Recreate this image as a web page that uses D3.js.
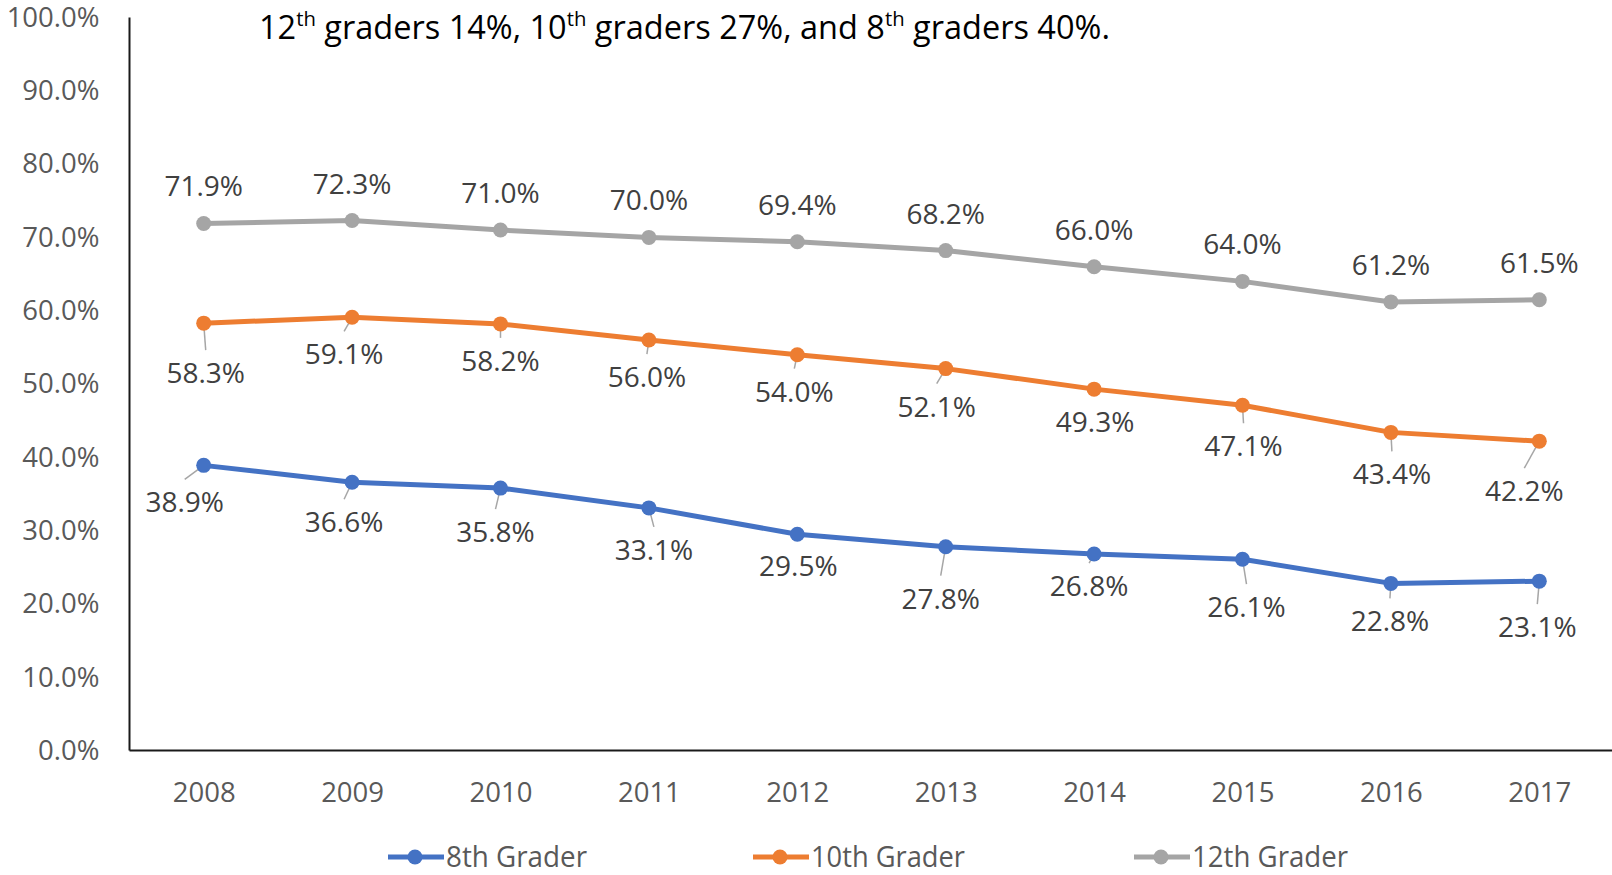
<!DOCTYPE html>
<html>
<head>
<meta charset="utf-8">
<script src="https://cdn.jsdelivr.net/npm/d3@7"></script>
<style>
  body { margin: 0; background: #fff; }
  svg { display: block; }
</style>
</head>
<body>
<div id="my_dataviz"></div>
<script>
// data
var years = ["2008", "2009", "2010", "2011", "2012", "2013", "2014", "2015", "2016", "2017"];
var grade8 = [38.9, 36.6, 35.8, 33.1, 29.5, 27.8, 26.8, 26.1, 22.8, 23.1];
var grade10 = [58.3, 59.1, 58.2, 56.0, 54.0, 52.1, 49.3, 47.1, 43.4, 42.2];
var grade12 = [71.9, 72.3, 71.0, 70.0, 69.4, 68.2, 66.0, 64.0, 61.2, 61.5];
var seriesNames = ["8th Grader", "10th Grader", "12th Grader"];
var yTicks = [0, 10, 20, 30, 40, 50, 60, 70, 80, 90, 100];

// label nudges (dx, baseline offset) - labels were dragged around in the original
var nudge8 = [[-19,47],[-8,50],[-5,54],[5,52],[1,42],[-5,62],[-5,42],[4,58],[-1,48],[-2,56]];
var nudge10 = [[2,60],[-8,47],[0,47],[-2,47],[-3,47],[-9,48],[1,43],[1,51],[1,52],[-15,60]];
var nudge12 = years.map(function() { return [0, -27]; });

var colors = ["#4472C4", "#ED7D31", "#A5A5A5"];

// set the dimensions of the plot area
var W = 1612, H = 875;
var plotLeft = 129.5, plotRight = 1613.5, plotTop = 17.5, plotBottom = 750.5;

var svg = d3.select("#my_dataviz")
  .append("svg")
    .attr("width", W)
    .attr("height", H)
    .style("font-family", "'Open Sans', sans-serif");

var x = d3.scalePoint()
    .domain(years)
    .range([plotLeft, plotRight])
    .padding(0.5);

var y = d3.scaleLinear()
    .domain([0, 100])
    .range([plotBottom, plotTop]);

// y axis labels
var yAxis = svg.append("g")
    .attr("transform", "translate(" + plotLeft + ",0)")
    .call(d3.axisLeft(y).tickValues(yTicks).tickSize(0).tickPadding(30)
      .tickFormat(function(d) { return d.toFixed(1) + "%"; }));
yAxis.select(".domain").remove();
yAxis.selectAll("text")
    .style("font-family", "'Open Sans', sans-serif")
    .style("font-size", "27.5px")
    .attr("fill", "#595959");

// x axis labels
var xAxis = svg.append("g")
    .attr("transform", "translate(0," + plotBottom + ")")
    .call(d3.axisBottom(x).tickSize(0).tickPadding(32));
xAxis.select(".domain").remove();
xAxis.selectAll("text")
    .style("font-family", "'Open Sans', sans-serif")
    .style("font-size", "27.5px")
    .attr("fill", "#595959");

// axis lines
svg.append("line")
    .attr("x1", plotLeft).attr("x2", plotLeft)
    .attr("y1", plotTop).attr("y2", plotBottom)
    .attr("stroke", "#1a1a1a").attr("stroke-width", 2);
svg.append("line")
    .attr("x1", plotLeft).attr("x2", W)
    .attr("y1", plotBottom).attr("y2", plotBottom)
    .attr("stroke", "#1a1a1a").attr("stroke-width", 2);

var series = [
  { name: seriesNames[0], values: grade8, nudge: nudge8, color: colors[0] },
  { name: seriesNames[1], values: grade10, nudge: nudge10, color: colors[1] },
  { name: seriesNames[2], values: grade12, nudge: nudge12, color: colors[2] }
];

var line = d3.line()
    .x(function(d, i) { return x(years[i]); })
    .y(function(d) { return y(d); });

// leader lines go under the markers
series.forEach(function(s) {
  s.values.forEach(function(v, i) {
    var px = x(years[i]), py = y(v);
    var lx = px + s.nudge[i][0];
    var ly = py + s.nudge[i][1] - 33;
    if (s.nudge[i][1] > 0 && Math.hypot(lx - px, ly - py) > 10.2) {
      svg.append("line")
          .attr("x1", px).attr("y1", py)
          .attr("x2", lx).attr("y2", ly)
          .attr("stroke", "#A6A6A6")
          .attr("stroke-width", 1.5);
    }
  });
});

series.forEach(function(s) {
  svg.append("path")
      .datum(s.values)
      .attr("fill", "none")
      .attr("stroke", s.color)
      .attr("stroke-width", 5)
      .attr("stroke-linejoin", "round")
      .attr("d", line);

  svg.append("g")
    .selectAll("circle")
    .data(s.values)
    .enter().append("circle")
      .attr("cx", function(d, i) { return x(years[i]); })
      .attr("cy", function(d) { return y(d); })
      .attr("r", 7.5)
      .attr("fill", s.color);

  svg.append("g")
    .selectAll("text")
    .data(s.values)
    .enter().append("text")
      .attr("x", function(d, i) { return x(years[i]) + s.nudge[i][0]; })
      .attr("y", function(d, i) { return y(d) + s.nudge[i][1]; })
      .attr("text-anchor", "middle")
      .style("font-size", "28px")
      .attr("fill", "#404040")
      .text(function(d) { return d.toFixed(1) + "%"; });
});

// title line (the line above it is cut off in the original)
var title = svg.append("text")
    .attr("x", 0)
    .attr("y", 0)
    .style("font-size", "32px")
    .attr("fill", "#000");
var parts = [["12", false], ["th", true], [" graders 14%, 10", false], ["th", true],
             [" graders 27%, and 8", false], ["th", true], [" graders 40%.", false]];
parts.forEach(function(p, i) {
  var t = title.append("tspan").text(p[0]);
  if (p[1]) {
    t.style("font-size", "20px").attr("dy", -13);
  } else if (i > 0) {
    t.attr("dy", 13);
  }
});
var tw = title.node().getBBox().width;
title.attr("transform", "translate(259,38.5) scale(" + (851 / tw) + ",1)");

// legend
var legendPos = [388, 753, 1134];
var legendTextW = [141, 154, 156];
seriesNames.forEach(function(name, i) {
  var g = svg.append("g").attr("transform", "translate(" + legendPos[i] + ",857)");
  g.append("line")
      .attr("x1", 0).attr("x2", 56)
      .attr("y1", 0).attr("y2", 0)
      .attr("stroke", colors[i]).attr("stroke-width", 5);
  g.append("circle")
      .attr("cx", 27).attr("cy", 0).attr("r", 7.5)
      .attr("fill", colors[i]);
  g.append("text")
      .attr("x", 58).attr("y", 9.5)
      .style("font-size", "29px")
      .attr("fill", "#595959")
      .attr("textLength", legendTextW[i])
      .attr("lengthAdjust", "spacingAndGlyphs")
      .text(name);
});
</script>
</body>
</html>
